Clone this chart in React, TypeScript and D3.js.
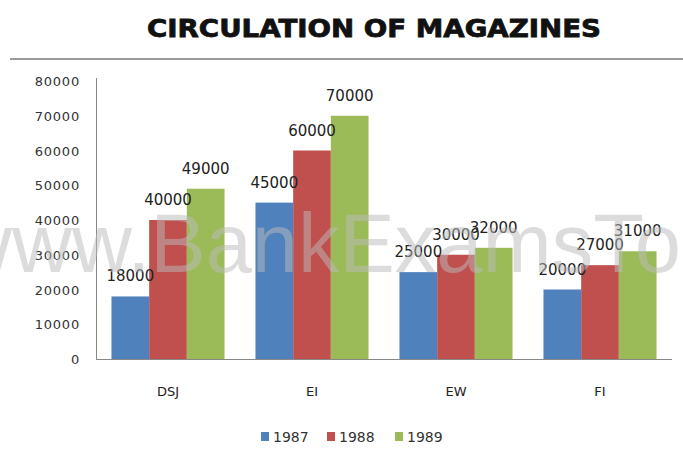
import React from "react";
import * as d3 from "d3";

const categories = ["DSJ", "EI", "EW", "FI"];
const seriesNames = ["1987", "1988", "1989"];
const values1987 = [18000, 45000, 25000, 20000];
const values1988 = [40000, 60000, 30000, 27000];
const values1989 = [49000, 70000, 32000, 31000];
const yTicks = [0, 10000, 20000, 30000, 40000, 50000, 60000, 70000, 80000];
const colors = ["#4F81BD", "#C0504D", "#9BBB59"];

const W = 683;
const H = 461;

export default function App() {
  const series = [values1987, values1988, values1989];
  const x0 = d3
    .scaleBand<string>()
    .domain(categories)
    .range([96, 672])
    .paddingInner(0.215)
    .paddingOuter(0.1075);
  const x1 = d3
    .scaleBand<string>()
    .domain(seriesNames)
    .range([0, x0.bandwidth()])
    .padding(0);
  const y = d3.scaleLinear().domain([0, 80000]).range([359, 81]);

  const catCenter = (c: string) => 96 + (576 / 4) * (categories.indexOf(c) + 0.5);

  const legendX = [261, 327, 395];

  return (
    <svg
      width={W}
      height={H}
      style={{ position: "absolute", left: 0, top: 0, background: "#fff" }}
      fontFamily="DejaVu Sans, sans-serif"
    >
      <rect x={0} y={0} width={W} height={H} fill="#fff" />
      <text
        x={374}
        y={37}
        textAnchor="middle"
        fontFamily="DejaVu Sans, sans-serif"
        fontWeight="bold"
        fontSize={24}
        textLength={454}
        lengthAdjust="spacingAndGlyphs"
        fill="#111"
        stroke="#111"
        strokeWidth={0.8}
      >
        CIRCULATION OF MAGAZINES
      </text>
      <line x1={10} x2={683} y1={59} y2={59} stroke="#9a9a9a" strokeWidth={2} />

      {/* y tick labels */}
      {yTicks.map((t) => (
        <text
          key={t}
          x={80}
          y={y(t) + 5}
          textAnchor="end"
          fontSize={13}
          letterSpacing={0.8}
          fill="#333"
        >
          {t}
        </text>
      ))}

      {/* bars */}
      {categories.map((c, ci) =>
        series.map((vals, si) => (
          <rect
            key={c + si}
            x={(x0(c) as number) + (x1(seriesNames[si]) as number)}
            y={y(vals[ci])}
            width={x1.bandwidth()}
            height={y(0) - y(vals[ci])}
            fill={colors[si]}
          />
        ))
      )}

      {/* axes */}
      <line x1={96.5} x2={96.5} y1={78} y2={359} stroke="#888" strokeWidth={1} />
      <line x1={96} x2={672} y1={359.5} y2={359.5} stroke="#888" strokeWidth={1} />

      {/* value labels */}
      {categories.map((c, ci) =>
        series.map((vals, si) => (
          <text
            key={"l" + c + si}
            x={(x0(c) as number) + (x1(seriesNames[si]) as number) + x1.bandwidth() / 2}
            y={y(vals[ci]) - 15}
            textAnchor="middle"
            fontSize={15}
            fill="#222"
          >
            {vals[ci]}
          </text>
        ))
      )}

      {/* category labels */}
      {categories.map((c) => (
        <text
          key={"c" + c}
          x={catCenter(c)}
          y={396}
          textAnchor="middle"
          fontSize={13}
          fill="#222"
        >
          {c}
        </text>
      ))}

      {/* legend */}
      {seriesNames.map((s, i) => (
        <g key={"lg" + s}>
          <rect x={legendX[i]} y={432} width={8} height={9} fill={colors[i]} />
          <text x={legendX[i] + 12} y={442} fontSize={14} fill="#333">
            {s}
          </text>
        </g>
      ))}

      {/* watermark */}
      <text
        x={-48}
        y={272}
        fontFamily="Liberation Sans, Arial, sans-serif"
        fontSize={83}
        fill="#bbbbbb"
        opacity={0.5}
      >
        www.BankExamsToday
      </text>
    </svg>
  );
}
